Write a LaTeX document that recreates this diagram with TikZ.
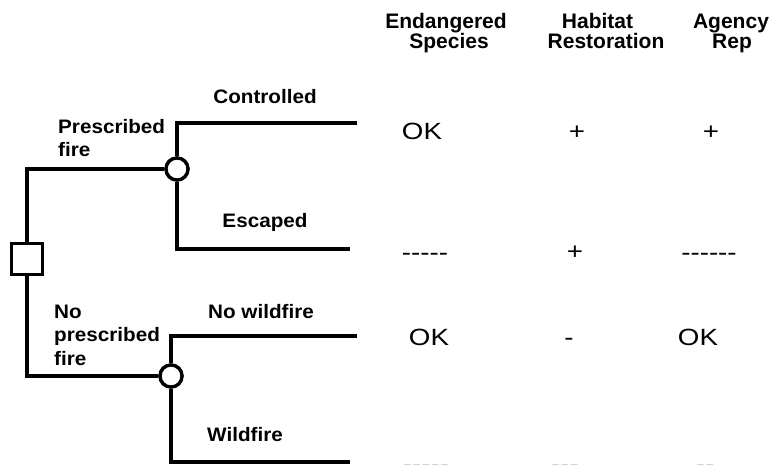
\documentclass[tikz,border=0pt]{standalone}
\usepackage{fontspec}
\setmainfont{Liberation Sans}
\newfontfamily\lblfont{Liberation Sans}[FakeStretch=1.06]
\newfontfamily\valfont{Liberation Sans}[FakeStretch=1.18,Ligatures=TeXOff]
\begin{document}
\begin{tikzpicture}[x=1pt,y=-1pt,
  lbl/.style={font=\lblfont\bfseries\fontsize{19.5}{23}\selectfont, inner sep=0pt},
  hdr/.style={font=\bfseries\fontsize{21}{18}\selectfont, inner sep=0pt, anchor=base},
  val/.style={font=\valfont\fontsize{23.5}{24}\selectfont, inner sep=0pt, anchor=base},
  branch/.style={line width=4pt, line join=miter, line cap=butt},
  chance/.style={circle, draw, line width=3.3pt, fill=white, minimum size=22pt, inner sep=0pt},
  decision/.style={rectangle, draw, line width=3.3pt, fill=white, minimum size=31pt, inner sep=0pt}]
\useasboundingbox (0,0) rectangle (771,464);
\clip (0,0) rectangle (771,464);
\fill[white] (0,0) rectangle (771,464);

% nodes
\node[decision] (d) at (27,259) {};
\node[chance] (A) at (177,169) {};
\node[chance] (B) at (171,376) {};
\coordinate (c1) at (357,123);
\coordinate (c2) at (350,249);
\coordinate (c3) at (357,336);
\coordinate (c4) at (350,462);

% connectors
\draw[branch] (d.north) |- (A.west);
\draw[branch] (d.south) |- (B.west);
\draw[branch] (A.north) |- (c1);
\draw[branch] (A.south) |- (c2);
\draw[branch] (B.north) |- (c3);
\draw[branch] (B.south) |- (c4);

% redraw nodes on top
\node[decision] at (d) {};
\node[chance] at (A) {};
\node[chance] at (B) {};

% branch labels
\node[lbl, anchor=base] (lc) at (265,103) {Controlled};
\node[lbl, anchor=base west] (lp1) at (58,133) {Prescribed};
\node[lbl, anchor=base west] (lp2) at (58,156) {fire};
\node[lbl, anchor=base] (le) at (265,227) {Escaped};
\node[lbl, anchor=base west] (ln1) at (54,318) {No};
\node[lbl, anchor=base west] (ln2) at (54,341.5) {prescribed};
\node[lbl, anchor=base west] (ln3) at (54,365) {fire};
\node[lbl, anchor=base west] (lnw) at (208,318) {No wildfire};
\node[lbl, anchor=base west] (lw) at (207,441.5) {Wildfire};

% headers
\node[hdr] (h1a) at (446,28.5) {Endangered};
\node[hdr] (h1b) at (449,48.5) {Species};
\node[hdr] (h2a) at (597.5,28.5) {Habitat};
\node[hdr] (h2b) at (606,48.5) {Restoration};
\node[hdr] (h3a) at (731,28.5) {Agency};
\node[hdr] (h3b) at (732,48.5) {Rep};

% values
\node[val] (v11) at (422,139) {OK};
\node[val] (v12) at (577,139) {+};
\node[val] (v13) at (711,139) {+};
\node[val] (v21) at (425,260.5) {-----};
\node[val] (v22) at (575,259.5) {+};
\node[val] (v23) at (709,260.5) {------};
\node[val] (v31) at (429,345.5) {OK};
\node[val] (v32) at (569,345) {-};
\node[val] (v33) at (698,345.5) {OK};
\node[val] (v41) at (426,472) {-----};
\node[val] (v42) at (565,472) {---};
\node[val] (v43) at (705,472) {--};
\end{tikzpicture}
\end{document}
